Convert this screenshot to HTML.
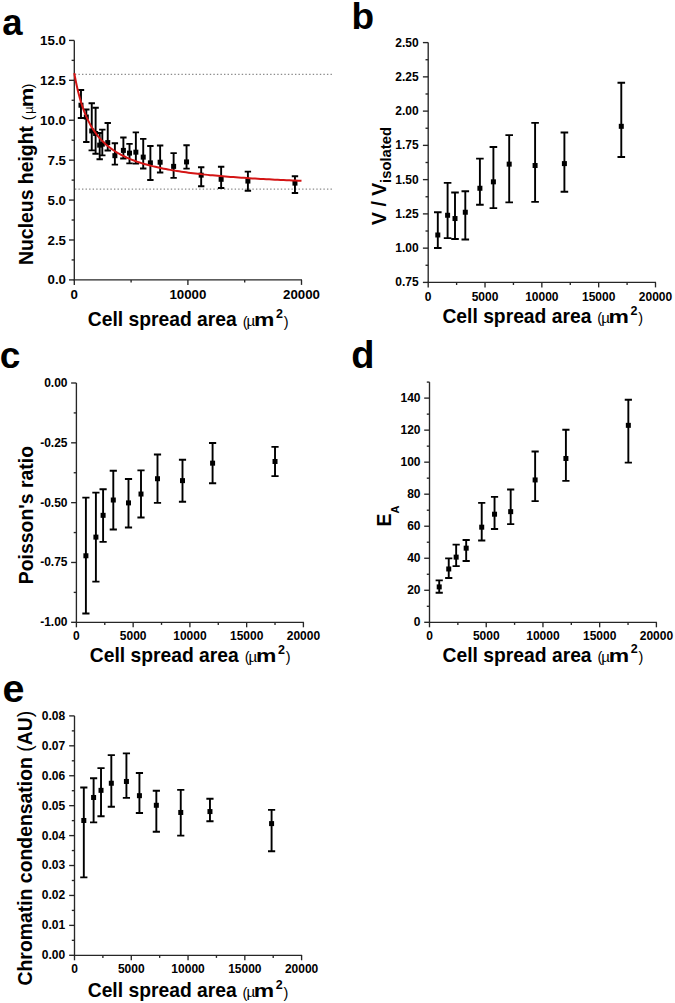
<!DOCTYPE html>
<html><head><meta charset="utf-8"><title>Figure</title>
<style>
html,body{margin:0;padding:0;background:#fff;}
body{width:675px;height:1003px;overflow:hidden;}
svg{display:block;}
text{font-family:"Liberation Sans", sans-serif;fill:#000;}
</style></head>
<body>
<svg width="675" height="1003" viewBox="0 0 675 1003">
<rect width="675" height="1003" fill="#fff"/>
<line x1="74.3" y1="40.4" x2="74.3" y2="280.5" stroke="#262626" stroke-width="1.35"/>
<line x1="73.7" y1="279.9" x2="302" y2="279.9" stroke="#262626" stroke-width="1.35"/>
<line x1="69" y1="279.9" x2="74.3" y2="279.9" stroke="#262626" stroke-width="1.35"/>
<text x="66" y="284.42" font-size="13.3" text-anchor="end" font-weight="bold">0.0</text>
<line x1="71.6" y1="259.94" x2="74.3" y2="259.94" stroke="#262626" stroke-width="1.35"/>
<line x1="69" y1="239.98" x2="74.3" y2="239.98" stroke="#262626" stroke-width="1.35"/>
<text x="66" y="244.51" font-size="13.3" text-anchor="end" font-weight="bold">2.5</text>
<line x1="71.6" y1="220.02" x2="74.3" y2="220.02" stroke="#262626" stroke-width="1.35"/>
<line x1="69" y1="200.07" x2="74.3" y2="200.07" stroke="#262626" stroke-width="1.35"/>
<text x="66" y="204.59" font-size="13.3" text-anchor="end" font-weight="bold">5.0</text>
<line x1="71.6" y1="180.11" x2="74.3" y2="180.11" stroke="#262626" stroke-width="1.35"/>
<line x1="69" y1="160.15" x2="74.3" y2="160.15" stroke="#262626" stroke-width="1.35"/>
<text x="66" y="164.67" font-size="13.3" text-anchor="end" font-weight="bold">7.5</text>
<line x1="71.6" y1="140.19" x2="74.3" y2="140.19" stroke="#262626" stroke-width="1.35"/>
<line x1="69" y1="120.23" x2="74.3" y2="120.23" stroke="#262626" stroke-width="1.35"/>
<text x="66" y="124.76" font-size="13.3" text-anchor="end" font-weight="bold">10.0</text>
<line x1="71.6" y1="100.28" x2="74.3" y2="100.28" stroke="#262626" stroke-width="1.35"/>
<line x1="69" y1="80.32" x2="74.3" y2="80.32" stroke="#262626" stroke-width="1.35"/>
<text x="66" y="84.84" font-size="13.3" text-anchor="end" font-weight="bold">12.5</text>
<line x1="71.6" y1="60.36" x2="74.3" y2="60.36" stroke="#262626" stroke-width="1.35"/>
<line x1="69" y1="40.4" x2="74.3" y2="40.4" stroke="#262626" stroke-width="1.35"/>
<text x="66" y="44.92" font-size="13.3" text-anchor="end" font-weight="bold">15.0</text>
<line x1="74.3" y1="279.9" x2="74.3" y2="284.9" stroke="#262626" stroke-width="1.35"/>
<text x="74.3" y="299.1" font-size="13.3" text-anchor="middle" font-weight="bold">0</text>
<line x1="131.1" y1="279.9" x2="131.1" y2="282.5" stroke="#262626" stroke-width="1.35"/>
<line x1="187.9" y1="279.9" x2="187.9" y2="284.9" stroke="#262626" stroke-width="1.35"/>
<text x="187.9" y="299.1" font-size="13.3" text-anchor="middle" font-weight="bold">10000</text>
<line x1="244.7" y1="279.9" x2="244.7" y2="282.5" stroke="#262626" stroke-width="1.35"/>
<line x1="301.5" y1="279.9" x2="301.5" y2="284.9" stroke="#262626" stroke-width="1.35"/>
<text x="301.5" y="299.1" font-size="13.3" text-anchor="middle" font-weight="bold">20000</text>
<line x1="74.9" y1="74.33" x2="334" y2="74.33" stroke="#8c8c8c" stroke-width="1.3" stroke-dasharray="1.4 2.15"/>
<line x1="74.9" y1="189.05" x2="334" y2="189.05" stroke="#8c8c8c" stroke-width="1.3" stroke-dasharray="1.4 2.15"/>
<path d="M80.98 90.06V118M77.78 90.06H84.18M77.78 118H84.18" stroke="#000" stroke-width="1.9" fill="none"/>
<rect x="78.48" y="102.72" width="5" height="5" fill="#000"/>
<path d="M86.31 109.54V141.95M83.11 109.54H89.51M83.11 141.95H89.51" stroke="#000" stroke-width="1.9" fill="none"/>
<rect x="83.81" y="114.54" width="5" height="5" fill="#000"/>
<path d="M91.75 103.31V150.41M88.55 103.31H94.95M88.55 150.41H94.95" stroke="#000" stroke-width="1.9" fill="none"/>
<rect x="89.25" y="128.43" width="5" height="5" fill="#000"/>
<path d="M95.61 107.78V153.76M92.41 107.78H98.81M92.41 153.76H98.81" stroke="#000" stroke-width="1.9" fill="none"/>
<rect x="93.11" y="130.99" width="5" height="5" fill="#000"/>
<path d="M99.69 133.01V159.19M96.49 133.01H102.89M96.49 159.19H102.89" stroke="#000" stroke-width="1.9" fill="none"/>
<rect x="97.19" y="142.64" width="5" height="5" fill="#000"/>
<path d="M102.3 129.65V155.36M99.1 129.65H105.5M99.1 155.36H105.5" stroke="#000" stroke-width="1.9" fill="none"/>
<rect x="99.8" y="141.68" width="5" height="5" fill="#000"/>
<path d="M107.74 122.95V150.57M104.54 122.95H110.94M104.54 150.57H110.94" stroke="#000" stroke-width="1.9" fill="none"/>
<rect x="105.24" y="140.09" width="5" height="5" fill="#000"/>
<path d="M114.88 143.23V164.62M111.68 143.23H118.08M111.68 164.62H118.08" stroke="#000" stroke-width="1.9" fill="none"/>
<rect x="112.38" y="153.18" width="5" height="5" fill="#000"/>
<path d="M123.39 137.48V158.55M120.19 137.48H126.59M120.19 158.55H126.59" stroke="#000" stroke-width="1.9" fill="none"/>
<rect x="120.89" y="147.91" width="5" height="5" fill="#000"/>
<path d="M129.51 143.86V163.34M126.31 143.86H132.71M126.31 163.34H132.71" stroke="#000" stroke-width="1.9" fill="none"/>
<rect x="127.01" y="150.62" width="5" height="5" fill="#000"/>
<path d="M135.86 132.37V163.66M132.66 132.37H139.06M132.66 163.66H139.06" stroke="#000" stroke-width="1.9" fill="none"/>
<rect x="133.36" y="149.67" width="5" height="5" fill="#000"/>
<path d="M143.23 138.91V168.45M140.03 138.91H146.43M140.03 168.45H146.43" stroke="#000" stroke-width="1.9" fill="none"/>
<rect x="140.73" y="154.62" width="5" height="5" fill="#000"/>
<path d="M150.38 145.94V179.95M147.18 145.94H153.58M147.18 179.95H153.58" stroke="#000" stroke-width="1.9" fill="none"/>
<rect x="147.88" y="160.36" width="5" height="5" fill="#000"/>
<path d="M160.13 145.46V172.44M156.93 145.46H163.33M156.93 172.44H163.33" stroke="#000" stroke-width="1.9" fill="none"/>
<rect x="157.63" y="159.73" width="5" height="5" fill="#000"/>
<path d="M173.62 153.12V177.87M170.43 153.12H176.82M170.43 177.87H176.82" stroke="#000" stroke-width="1.9" fill="none"/>
<rect x="171.12" y="163.88" width="5" height="5" fill="#000"/>
<path d="M186.55 145.3V168.61M183.35 145.3H189.75M183.35 168.61H189.75" stroke="#000" stroke-width="1.9" fill="none"/>
<rect x="184.05" y="159.41" width="5" height="5" fill="#000"/>
<path d="M201.18 167.18V186.18M197.98 167.18H204.38M197.98 186.18H204.38" stroke="#000" stroke-width="1.9" fill="none"/>
<rect x="198.68" y="172.66" width="5" height="5" fill="#000"/>
<path d="M221.14 166.7V187.93M217.94 166.7H224.34M217.94 187.93H224.34" stroke="#000" stroke-width="1.9" fill="none"/>
<rect x="218.64" y="176.81" width="5" height="5" fill="#000"/>
<path d="M247.9 171.65V190.81M244.7 171.65H251.1M244.7 190.81H251.1" stroke="#000" stroke-width="1.9" fill="none"/>
<rect x="245.4" y="178.57" width="5" height="5" fill="#000"/>
<path d="M294.96 176.28V193.04M291.76 176.28H298.16M291.76 193.04H298.16" stroke="#000" stroke-width="1.9" fill="none"/>
<rect x="292.46" y="180.64" width="5" height="5" fill="#000"/>
<polyline points="74.3,73.13 74.41,73.74 74.62,74.97 74.92,76.59 75.28,78.52 75.71,80.68 76.18,83.03 76.71,85.5 77.28,88.07 77.9,90.71 78.56,93.38 79.27,96.06 80.01,98.74 80.79,101.39 81.6,104.02 82.46,106.59 83.34,109.12 84.26,111.58 85.22,113.98 86.2,116.31 87.22,118.58 88.27,120.77 89.35,122.89 90.46,124.94 91.6,126.92 92.77,128.82 93.96,130.66 95.19,132.43 96.44,134.14 97.72,135.78 99.02,137.36 100.36,138.88 101.71,140.35 103.1,141.76 104.51,143.11 105.94,144.42 107.4,145.67 108.88,146.88 110.39,148.04 111.92,149.16 113.48,150.24 115.05,151.28 116.66,152.28 118.28,153.24 119.93,154.17 121.6,155.07 123.29,155.93 125.01,156.76 126.75,157.57 128.5,158.34 130.28,159.09 132.09,159.81 133.91,160.51 135.76,161.19 137.62,161.84 139.51,162.47 141.41,163.08 143.34,163.67 145.29,164.24 147.26,164.8 149.25,165.33 151.26,165.85 153.29,166.35 155.33,166.84 157.4,167.31 159.49,167.77 161.59,168.21 163.72,168.65 165.87,169.06 168.03,169.47 170.21,169.86 172.41,170.25 174.63,170.62 176.87,170.98 179.13,171.33 181.41,171.67 183.7,172.01 186.01,172.33 188.34,172.64 190.69,172.95 193.06,173.25 195.44,173.54 197.84,173.82 200.26,174.1 202.7,174.37 205.15,174.63 207.63,174.88 210.12,175.13 212.62,175.37 215.15,175.61 217.69,175.84 220.24,176.06 222.82,176.28 225.41,176.5 228.02,176.71 230.64,176.91 233.28,177.11 235.94,177.31 238.62,177.5 241.31,177.69 244.01,177.87 246.74,178.05 249.48,178.22 252.23,178.39 255.01,178.56 257.79,178.72 260.6,178.88 263.42,179.04 266.25,179.19 269.11,179.34 271.97,179.49 274.86,179.63 277.75,179.77 280.67,179.91 283.6,180.04 286.54,180.17 289.5,180.3 292.48,180.43 295.47,180.56 298.48,180.68 301.5,180.8" fill="none" stroke="#d41515" stroke-width="2"/>
<text x="2.2" y="35.3" font-size="36.5" font-weight="bold">a</text>
<g transform="translate(88.6 326.2)"><text x="-0.79" y="0" font-size="19.3" font-weight="bold">Cell spread area</text>
<text x="154.1" y="0.4" font-size="14.5" font-weight="normal">(</text>
<text x="157.97" y="0" font-size="15" font-weight="normal">µ</text>
<text transform="translate(165.29 0) scale(1.31 1)" font-size="17.5" font-weight="bold">m</text>
<text x="187.37" y="-8.2" font-size="12.5" font-weight="bold">2</text>
<text x="195.12" y="0.4" font-size="14.5" font-weight="normal">)</text></g>
<g transform="translate(33.1 263.7) rotate(-90)"><text x="-1.3" y="0" font-size="19.4" font-weight="bold">Nucleus height</text>
<text x="143.5" y="0" font-size="14.5" font-weight="normal">(</text>
<text x="149.68" y="0" font-size="13.5" font-weight="normal">µ</text>
<text transform="translate(156.33 0) scale(1.17 1)" font-size="19" font-weight="bold">m</text>
<text x="175.12" y="0" font-size="14.5" font-weight="normal">)</text></g>
<line x1="428.2" y1="42.6" x2="428.2" y2="283" stroke="#262626" stroke-width="1.35"/>
<line x1="427.6" y1="282.4" x2="656" y2="282.4" stroke="#262626" stroke-width="1.35"/>
<line x1="422.9" y1="282.4" x2="428.2" y2="282.4" stroke="#262626" stroke-width="1.35"/>
<text x="418.7" y="286.36" font-size="12" text-anchor="end" font-weight="bold">0.75</text>
<line x1="425.5" y1="265.27" x2="428.2" y2="265.27" stroke="#262626" stroke-width="1.35"/>
<line x1="422.9" y1="248.14" x2="428.2" y2="248.14" stroke="#262626" stroke-width="1.35"/>
<text x="418.7" y="252.1" font-size="12" text-anchor="end" font-weight="bold">1.00</text>
<line x1="425.5" y1="231.01" x2="428.2" y2="231.01" stroke="#262626" stroke-width="1.35"/>
<line x1="422.9" y1="213.89" x2="428.2" y2="213.89" stroke="#262626" stroke-width="1.35"/>
<text x="418.7" y="217.85" font-size="12" text-anchor="end" font-weight="bold">1.25</text>
<line x1="425.5" y1="196.76" x2="428.2" y2="196.76" stroke="#262626" stroke-width="1.35"/>
<line x1="422.9" y1="179.63" x2="428.2" y2="179.63" stroke="#262626" stroke-width="1.35"/>
<text x="418.7" y="183.59" font-size="12" text-anchor="end" font-weight="bold">1.50</text>
<line x1="425.5" y1="162.5" x2="428.2" y2="162.5" stroke="#262626" stroke-width="1.35"/>
<line x1="422.9" y1="145.37" x2="428.2" y2="145.37" stroke="#262626" stroke-width="1.35"/>
<text x="418.7" y="149.33" font-size="12" text-anchor="end" font-weight="bold">1.75</text>
<line x1="425.5" y1="128.24" x2="428.2" y2="128.24" stroke="#262626" stroke-width="1.35"/>
<line x1="422.9" y1="111.11" x2="428.2" y2="111.11" stroke="#262626" stroke-width="1.35"/>
<text x="418.7" y="115.07" font-size="12" text-anchor="end" font-weight="bold">2.00</text>
<line x1="425.5" y1="93.99" x2="428.2" y2="93.99" stroke="#262626" stroke-width="1.35"/>
<line x1="422.9" y1="76.86" x2="428.2" y2="76.86" stroke="#262626" stroke-width="1.35"/>
<text x="418.7" y="80.82" font-size="12" text-anchor="end" font-weight="bold">2.25</text>
<line x1="425.5" y1="59.73" x2="428.2" y2="59.73" stroke="#262626" stroke-width="1.35"/>
<line x1="422.9" y1="42.6" x2="428.2" y2="42.6" stroke="#262626" stroke-width="1.35"/>
<text x="418.7" y="46.56" font-size="12" text-anchor="end" font-weight="bold">2.50</text>
<line x1="428.2" y1="282.4" x2="428.2" y2="287.4" stroke="#262626" stroke-width="1.35"/>
<text x="428.2" y="300.6" font-size="12" text-anchor="middle" font-weight="bold">0</text>
<line x1="456.61" y1="282.4" x2="456.61" y2="285" stroke="#262626" stroke-width="1.35"/>
<line x1="485.02" y1="282.4" x2="485.02" y2="287.4" stroke="#262626" stroke-width="1.35"/>
<text x="485.02" y="300.6" font-size="12" text-anchor="middle" font-weight="bold">5000</text>
<line x1="513.44" y1="282.4" x2="513.44" y2="285" stroke="#262626" stroke-width="1.35"/>
<line x1="541.85" y1="282.4" x2="541.85" y2="287.4" stroke="#262626" stroke-width="1.35"/>
<text x="541.85" y="300.6" font-size="12" text-anchor="middle" font-weight="bold">10000</text>
<line x1="570.26" y1="282.4" x2="570.26" y2="285" stroke="#262626" stroke-width="1.35"/>
<line x1="598.67" y1="282.4" x2="598.67" y2="287.4" stroke="#262626" stroke-width="1.35"/>
<text x="598.67" y="300.6" font-size="12" text-anchor="middle" font-weight="bold">15000</text>
<line x1="627.09" y1="282.4" x2="627.09" y2="285" stroke="#262626" stroke-width="1.35"/>
<line x1="655.5" y1="282.4" x2="655.5" y2="287.4" stroke="#262626" stroke-width="1.35"/>
<text x="655.5" y="300.6" font-size="12" text-anchor="middle" font-weight="bold">20000</text>
<path d="M437.8 212.24V248.01M434 212.24H441.6M434 248.01H441.6" stroke="#000" stroke-width="1.9" fill="none"/>
<rect x="435.3" y="232.49" width="5" height="5" fill="#000"/>
<path d="M447.6 182.92V238.14M443.8 182.92H451.4M443.8 238.14H451.4" stroke="#000" stroke-width="1.9" fill="none"/>
<rect x="445.1" y="212.76" width="5" height="5" fill="#000"/>
<path d="M455 192.51V238.96M451.2 192.51H458.8M451.2 238.96H458.8" stroke="#000" stroke-width="1.9" fill="none"/>
<rect x="452.5" y="216.04" width="5" height="5" fill="#000"/>
<path d="M465.3 191.28V239.51M461.5 191.28H469.1M461.5 239.51H469.1" stroke="#000" stroke-width="1.9" fill="none"/>
<rect x="462.8" y="209.74" width="5" height="5" fill="#000"/>
<path d="M479.9 158.66V204.7M476.1 158.66H483.7M476.1 204.7H483.7" stroke="#000" stroke-width="1.9" fill="none"/>
<rect x="477.4" y="185.76" width="5" height="5" fill="#000"/>
<path d="M493.4 147.02V208.13M489.6 147.02H497.2M489.6 208.13H497.2" stroke="#000" stroke-width="1.9" fill="none"/>
<rect x="490.9" y="179.32" width="5" height="5" fill="#000"/>
<path d="M509.2 135.09V202.38M505.4 135.09H513M505.4 202.38H513" stroke="#000" stroke-width="1.9" fill="none"/>
<rect x="506.7" y="161.64" width="5" height="5" fill="#000"/>
<path d="M535.09 122.9V201.83M531.29 122.9H538.89M531.29 201.83H538.89" stroke="#000" stroke-width="1.9" fill="none"/>
<rect x="532.59" y="163.01" width="5" height="5" fill="#000"/>
<path d="M564.4 132.49V191.69M560.6 132.49H568.2M560.6 191.69H568.2" stroke="#000" stroke-width="1.9" fill="none"/>
<rect x="561.9" y="161.1" width="5" height="5" fill="#000"/>
<path d="M621.29 82.75V157.02M617.49 82.75H625.09M617.49 157.02H625.09" stroke="#000" stroke-width="1.9" fill="none"/>
<rect x="618.79" y="123.82" width="5" height="5" fill="#000"/>
<text x="351.5" y="29.3" font-size="37" font-weight="bold">b</text>
<g transform="translate(443.2 322.8)"><text x="-0.79" y="0" font-size="19.3" font-weight="bold">Cell spread area</text>
<text x="154.1" y="0.4" font-size="14.5" font-weight="normal">(</text>
<text x="157.97" y="0" font-size="15" font-weight="normal">µ</text>
<text transform="translate(165.29 0) scale(1.31 1)" font-size="17.5" font-weight="bold">m</text>
<text x="187.37" y="-8.2" font-size="12.5" font-weight="bold">2</text>
<text x="195.12" y="0.4" font-size="14.5" font-weight="normal">)</text></g>
<g transform="translate(385.9 224.8) rotate(-90)"><text x="-0.13" y="0" font-size="19.4" font-weight="bold">V / V<tspan font-size="14.8" dy="5.4">isolated</tspan></text></g>
<line x1="76.4" y1="383" x2="76.4" y2="622.9" stroke="#262626" stroke-width="1.35"/>
<line x1="75.8" y1="622.3" x2="303.9" y2="622.3" stroke="#262626" stroke-width="1.35"/>
<line x1="71.1" y1="622.3" x2="76.4" y2="622.3" stroke="#262626" stroke-width="1.35"/>
<text x="67.5" y="626.26" font-size="12" text-anchor="end" font-weight="bold">-1.00</text>
<line x1="73.7" y1="592.39" x2="76.4" y2="592.39" stroke="#262626" stroke-width="1.35"/>
<line x1="71.1" y1="562.47" x2="76.4" y2="562.47" stroke="#262626" stroke-width="1.35"/>
<text x="67.5" y="566.43" font-size="12" text-anchor="end" font-weight="bold">-0.75</text>
<line x1="73.7" y1="532.56" x2="76.4" y2="532.56" stroke="#262626" stroke-width="1.35"/>
<line x1="71.1" y1="502.65" x2="76.4" y2="502.65" stroke="#262626" stroke-width="1.35"/>
<text x="67.5" y="506.61" font-size="12" text-anchor="end" font-weight="bold">-0.50</text>
<line x1="73.7" y1="472.74" x2="76.4" y2="472.74" stroke="#262626" stroke-width="1.35"/>
<line x1="71.1" y1="442.82" x2="76.4" y2="442.82" stroke="#262626" stroke-width="1.35"/>
<text x="67.5" y="446.78" font-size="12" text-anchor="end" font-weight="bold">-0.25</text>
<line x1="73.7" y1="412.91" x2="76.4" y2="412.91" stroke="#262626" stroke-width="1.35"/>
<line x1="71.1" y1="383" x2="76.4" y2="383" stroke="#262626" stroke-width="1.35"/>
<text x="67.5" y="386.96" font-size="12" text-anchor="end" font-weight="bold">0.00</text>
<line x1="76.4" y1="622.3" x2="76.4" y2="627.3" stroke="#262626" stroke-width="1.35"/>
<text x="76.4" y="640.2" font-size="12" text-anchor="middle" font-weight="bold">0</text>
<line x1="104.78" y1="622.3" x2="104.78" y2="624.9" stroke="#262626" stroke-width="1.35"/>
<line x1="133.15" y1="622.3" x2="133.15" y2="627.3" stroke="#262626" stroke-width="1.35"/>
<text x="133.15" y="640.2" font-size="12" text-anchor="middle" font-weight="bold">5000</text>
<line x1="161.52" y1="622.3" x2="161.52" y2="624.9" stroke="#262626" stroke-width="1.35"/>
<line x1="189.9" y1="622.3" x2="189.9" y2="627.3" stroke="#262626" stroke-width="1.35"/>
<text x="189.9" y="640.2" font-size="12" text-anchor="middle" font-weight="bold">10000</text>
<line x1="218.27" y1="622.3" x2="218.27" y2="624.9" stroke="#262626" stroke-width="1.35"/>
<line x1="246.65" y1="622.3" x2="246.65" y2="627.3" stroke="#262626" stroke-width="1.35"/>
<text x="246.65" y="640.2" font-size="12" text-anchor="middle" font-weight="bold">15000</text>
<line x1="275.02" y1="622.3" x2="275.02" y2="624.9" stroke="#262626" stroke-width="1.35"/>
<line x1="303.4" y1="622.3" x2="303.4" y2="627.3" stroke="#262626" stroke-width="1.35"/>
<text x="303.4" y="640.2" font-size="12" text-anchor="middle" font-weight="bold">20000</text>
<path d="M85.9 497.62V613.45M82.3 497.62H89.5M82.3 613.45H89.5" stroke="#000" stroke-width="1.9" fill="none"/>
<rect x="83.4" y="553.27" width="5" height="5" fill="#000"/>
<path d="M95.9 492.6V581.62M92.3 492.6H99.5M92.3 581.62H99.5" stroke="#000" stroke-width="1.9" fill="none"/>
<rect x="93.4" y="534.61" width="5" height="5" fill="#000"/>
<path d="M103.1 489.25V541.9M99.5 489.25H106.7M99.5 541.9H106.7" stroke="#000" stroke-width="1.9" fill="none"/>
<rect x="100.6" y="512.83" width="5" height="5" fill="#000"/>
<path d="M113.3 470.82V529.45M109.7 470.82H116.89M109.7 529.45H116.89" stroke="#000" stroke-width="1.9" fill="none"/>
<rect x="110.8" y="497.52" width="5" height="5" fill="#000"/>
<path d="M128.5 478.96V527.54M124.91 478.96H132.1M124.91 527.54H132.1" stroke="#000" stroke-width="1.9" fill="none"/>
<rect x="126" y="500.39" width="5" height="5" fill="#000"/>
<path d="M141 470.34V517.49M137.4 470.34H144.6M137.4 517.49H144.6" stroke="#000" stroke-width="1.9" fill="none"/>
<rect x="138.5" y="491.54" width="5" height="5" fill="#000"/>
<path d="M157.5 454.55V502.89M153.9 454.55H161.1M153.9 502.89H161.1" stroke="#000" stroke-width="1.9" fill="none"/>
<rect x="155" y="476.22" width="5" height="5" fill="#000"/>
<path d="M182.5 459.82V501.69M178.91 459.82H186.1M178.91 501.69H186.1" stroke="#000" stroke-width="1.9" fill="none"/>
<rect x="180" y="478.13" width="5" height="5" fill="#000"/>
<path d="M212.59 443.06V483.27M208.99 443.06H216.19M208.99 483.27H216.19" stroke="#000" stroke-width="1.9" fill="none"/>
<rect x="210.09" y="460.67" width="5" height="5" fill="#000"/>
<path d="M275.02 446.89V476.09M271.42 446.89H278.62M271.42 476.09H278.62" stroke="#000" stroke-width="1.9" fill="none"/>
<rect x="272.52" y="458.99" width="5" height="5" fill="#000"/>
<text x="-0.2" y="368.0" font-size="37" font-weight="bold">c</text>
<g transform="translate(90.6 661.9)"><text x="-0.79" y="0" font-size="19.3" font-weight="bold">Cell spread area</text>
<text x="154.1" y="0.4" font-size="14.5" font-weight="normal">(</text>
<text x="157.97" y="0" font-size="15" font-weight="normal">µ</text>
<text transform="translate(165.29 0) scale(1.31 1)" font-size="17.5" font-weight="bold">m</text>
<text x="187.37" y="-8.2" font-size="12.5" font-weight="bold">2</text>
<text x="195.12" y="0.4" font-size="14.5" font-weight="normal">)</text></g>
<g transform="translate(33.1 582.9) rotate(-90)"><text x="-1.3" y="0" font-size="19.4" font-weight="bold">Poisson's ratio</text></g>
<line x1="429.5" y1="382.1" x2="429.5" y2="622.9" stroke="#262626" stroke-width="1.35"/>
<line x1="428.9" y1="622.3" x2="656.9" y2="622.3" stroke="#262626" stroke-width="1.35"/>
<line x1="424.2" y1="622.3" x2="429.5" y2="622.3" stroke="#262626" stroke-width="1.35"/>
<text x="420.5" y="626.26" font-size="12" text-anchor="end" font-weight="bold">0</text>
<line x1="426.8" y1="606.29" x2="429.5" y2="606.29" stroke="#262626" stroke-width="1.35"/>
<line x1="424.2" y1="590.27" x2="429.5" y2="590.27" stroke="#262626" stroke-width="1.35"/>
<text x="420.5" y="594.23" font-size="12" text-anchor="end" font-weight="bold">20</text>
<line x1="426.8" y1="574.26" x2="429.5" y2="574.26" stroke="#262626" stroke-width="1.35"/>
<line x1="424.2" y1="558.25" x2="429.5" y2="558.25" stroke="#262626" stroke-width="1.35"/>
<text x="420.5" y="562.21" font-size="12" text-anchor="end" font-weight="bold">40</text>
<line x1="426.8" y1="542.23" x2="429.5" y2="542.23" stroke="#262626" stroke-width="1.35"/>
<line x1="424.2" y1="526.22" x2="429.5" y2="526.22" stroke="#262626" stroke-width="1.35"/>
<text x="420.5" y="530.18" font-size="12" text-anchor="end" font-weight="bold">60</text>
<line x1="426.8" y1="510.21" x2="429.5" y2="510.21" stroke="#262626" stroke-width="1.35"/>
<line x1="424.2" y1="494.19" x2="429.5" y2="494.19" stroke="#262626" stroke-width="1.35"/>
<text x="420.5" y="498.15" font-size="12" text-anchor="end" font-weight="bold">80</text>
<line x1="426.8" y1="478.18" x2="429.5" y2="478.18" stroke="#262626" stroke-width="1.35"/>
<line x1="424.2" y1="462.17" x2="429.5" y2="462.17" stroke="#262626" stroke-width="1.35"/>
<text x="420.5" y="466.13" font-size="12" text-anchor="end" font-weight="bold">100</text>
<line x1="426.8" y1="446.15" x2="429.5" y2="446.15" stroke="#262626" stroke-width="1.35"/>
<line x1="424.2" y1="430.14" x2="429.5" y2="430.14" stroke="#262626" stroke-width="1.35"/>
<text x="420.5" y="434.1" font-size="12" text-anchor="end" font-weight="bold">120</text>
<line x1="426.8" y1="414.13" x2="429.5" y2="414.13" stroke="#262626" stroke-width="1.35"/>
<line x1="424.2" y1="398.11" x2="429.5" y2="398.11" stroke="#262626" stroke-width="1.35"/>
<text x="420.5" y="402.07" font-size="12" text-anchor="end" font-weight="bold">140</text>
<line x1="426.8" y1="382.1" x2="429.5" y2="382.1" stroke="#262626" stroke-width="1.35"/>
<line x1="429.5" y1="622.3" x2="429.5" y2="627.3" stroke="#262626" stroke-width="1.35"/>
<text x="429.5" y="640.4" font-size="12" text-anchor="middle" font-weight="bold">0</text>
<line x1="457.86" y1="622.3" x2="457.86" y2="624.9" stroke="#262626" stroke-width="1.35"/>
<line x1="486.23" y1="622.3" x2="486.23" y2="627.3" stroke="#262626" stroke-width="1.35"/>
<text x="486.23" y="640.4" font-size="12" text-anchor="middle" font-weight="bold">5000</text>
<line x1="514.59" y1="622.3" x2="514.59" y2="624.9" stroke="#262626" stroke-width="1.35"/>
<line x1="542.95" y1="622.3" x2="542.95" y2="627.3" stroke="#262626" stroke-width="1.35"/>
<text x="542.95" y="640.4" font-size="12" text-anchor="middle" font-weight="bold">10000</text>
<line x1="571.31" y1="622.3" x2="571.31" y2="624.9" stroke="#262626" stroke-width="1.35"/>
<line x1="599.67" y1="622.3" x2="599.67" y2="627.3" stroke="#262626" stroke-width="1.35"/>
<text x="599.67" y="640.4" font-size="12" text-anchor="middle" font-weight="bold">15000</text>
<line x1="628.04" y1="622.3" x2="628.04" y2="624.9" stroke="#262626" stroke-width="1.35"/>
<line x1="656.4" y1="622.3" x2="656.4" y2="627.3" stroke="#262626" stroke-width="1.35"/>
<text x="656.4" y="640.4" font-size="12" text-anchor="middle" font-weight="bold">20000</text>
<path d="M439.22 580.35V592.68M435.62 580.35H442.82M435.62 592.68H442.82" stroke="#000" stroke-width="1.9" fill="none"/>
<rect x="436.72" y="584.41" width="5" height="5" fill="#000"/>
<path d="M448.74 558.41V577.94M445.14 558.41H452.34M445.14 577.94H452.34" stroke="#000" stroke-width="1.9" fill="none"/>
<rect x="446.24" y="566.48" width="5" height="5" fill="#000"/>
<path d="M456.16 544.64V566.09M452.56 544.64H459.76M452.56 566.09H459.76" stroke="#000" stroke-width="1.9" fill="none"/>
<rect x="453.66" y="554.63" width="5" height="5" fill="#000"/>
<path d="M466.18 539.99V560.97M462.58 539.99H469.78M462.58 560.97H469.78" stroke="#000" stroke-width="1.9" fill="none"/>
<rect x="463.68" y="545.66" width="5" height="5" fill="#000"/>
<path d="M481.72 502.84V540.47M478.12 502.84H485.32M478.12 540.47H485.32" stroke="#000" stroke-width="1.9" fill="none"/>
<rect x="479.22" y="524.68" width="5" height="5" fill="#000"/>
<path d="M494.54 496.92V528.94M490.94 496.92H498.14M490.94 528.94H498.14" stroke="#000" stroke-width="1.9" fill="none"/>
<rect x="492.04" y="511.71" width="5" height="5" fill="#000"/>
<path d="M510.68 489.55V524.14M507.08 489.55H514.28M507.08 524.14H514.28" stroke="#000" stroke-width="1.9" fill="none"/>
<rect x="508.18" y="509.15" width="5" height="5" fill="#000"/>
<path d="M535.13 451.44V501.08M531.53 451.44H538.73M531.53 501.08H538.73" stroke="#000" stroke-width="1.9" fill="none"/>
<rect x="532.63" y="477.44" width="5" height="5" fill="#000"/>
<path d="M565.9 429.82V480.9M562.3 429.82H569.5M562.3 480.9H569.5" stroke="#000" stroke-width="1.9" fill="none"/>
<rect x="563.4" y="455.98" width="5" height="5" fill="#000"/>
<path d="M628.34 399.71V462.65M624.74 399.71H631.94M624.74 462.65H631.94" stroke="#000" stroke-width="1.9" fill="none"/>
<rect x="625.84" y="422.84" width="5" height="5" fill="#000"/>
<text x="351.3" y="368.3" font-size="38" font-weight="bold">d</text>
<g transform="translate(443.4 661.5)"><text x="-0.79" y="0" font-size="19.3" font-weight="bold">Cell spread area</text>
<text x="154.1" y="0.4" font-size="14.5" font-weight="normal">(</text>
<text x="157.97" y="0" font-size="15" font-weight="normal">µ</text>
<text transform="translate(165.29 0) scale(1.31 1)" font-size="17.5" font-weight="bold">m</text>
<text x="187.37" y="-8.2" font-size="12.5" font-weight="bold">2</text>
<text x="195.12" y="0.4" font-size="14.5" font-weight="normal">)</text></g>
<g transform="translate(391.3 525.2) rotate(-90)"><text x="-1.3" y="0" font-size="19.4" font-weight="bold">E<tspan font-size="11" dy="7.4">A</tspan></text></g>
<line x1="74.5" y1="715.9" x2="74.5" y2="955.9" stroke="#262626" stroke-width="1.35"/>
<line x1="73.9" y1="955.3" x2="302.1" y2="955.3" stroke="#262626" stroke-width="1.35"/>
<line x1="69.2" y1="955.3" x2="74.5" y2="955.3" stroke="#262626" stroke-width="1.35"/>
<text x="65.2" y="959.26" font-size="12" text-anchor="end" font-weight="bold">0.00</text>
<line x1="71.8" y1="940.34" x2="74.5" y2="940.34" stroke="#262626" stroke-width="1.35"/>
<line x1="69.2" y1="925.38" x2="74.5" y2="925.38" stroke="#262626" stroke-width="1.35"/>
<text x="65.2" y="929.34" font-size="12" text-anchor="end" font-weight="bold">0.01</text>
<line x1="71.8" y1="910.41" x2="74.5" y2="910.41" stroke="#262626" stroke-width="1.35"/>
<line x1="69.2" y1="895.45" x2="74.5" y2="895.45" stroke="#262626" stroke-width="1.35"/>
<text x="65.2" y="899.41" font-size="12" text-anchor="end" font-weight="bold">0.02</text>
<line x1="71.8" y1="880.49" x2="74.5" y2="880.49" stroke="#262626" stroke-width="1.35"/>
<line x1="69.2" y1="865.52" x2="74.5" y2="865.52" stroke="#262626" stroke-width="1.35"/>
<text x="65.2" y="869.49" font-size="12" text-anchor="end" font-weight="bold">0.03</text>
<line x1="71.8" y1="850.56" x2="74.5" y2="850.56" stroke="#262626" stroke-width="1.35"/>
<line x1="69.2" y1="835.6" x2="74.5" y2="835.6" stroke="#262626" stroke-width="1.35"/>
<text x="65.2" y="839.56" font-size="12" text-anchor="end" font-weight="bold">0.04</text>
<line x1="71.8" y1="820.64" x2="74.5" y2="820.64" stroke="#262626" stroke-width="1.35"/>
<line x1="69.2" y1="805.67" x2="74.5" y2="805.67" stroke="#262626" stroke-width="1.35"/>
<text x="65.2" y="809.63" font-size="12" text-anchor="end" font-weight="bold">0.05</text>
<line x1="71.8" y1="790.71" x2="74.5" y2="790.71" stroke="#262626" stroke-width="1.35"/>
<line x1="69.2" y1="775.75" x2="74.5" y2="775.75" stroke="#262626" stroke-width="1.35"/>
<text x="65.2" y="779.71" font-size="12" text-anchor="end" font-weight="bold">0.06</text>
<line x1="71.8" y1="760.79" x2="74.5" y2="760.79" stroke="#262626" stroke-width="1.35"/>
<line x1="69.2" y1="745.82" x2="74.5" y2="745.82" stroke="#262626" stroke-width="1.35"/>
<text x="65.2" y="749.78" font-size="12" text-anchor="end" font-weight="bold">0.07</text>
<line x1="71.8" y1="730.86" x2="74.5" y2="730.86" stroke="#262626" stroke-width="1.35"/>
<line x1="69.2" y1="715.9" x2="74.5" y2="715.9" stroke="#262626" stroke-width="1.35"/>
<text x="65.2" y="719.86" font-size="12" text-anchor="end" font-weight="bold">0.08</text>
<line x1="74.5" y1="955.3" x2="74.5" y2="960.3" stroke="#262626" stroke-width="1.35"/>
<text x="74.5" y="973.1" font-size="12" text-anchor="middle" font-weight="bold">0</text>
<line x1="102.89" y1="955.3" x2="102.89" y2="957.9" stroke="#262626" stroke-width="1.35"/>
<line x1="131.28" y1="955.3" x2="131.28" y2="960.3" stroke="#262626" stroke-width="1.35"/>
<text x="131.28" y="973.1" font-size="12" text-anchor="middle" font-weight="bold">5000</text>
<line x1="159.66" y1="955.3" x2="159.66" y2="957.9" stroke="#262626" stroke-width="1.35"/>
<line x1="188.05" y1="955.3" x2="188.05" y2="960.3" stroke="#262626" stroke-width="1.35"/>
<text x="188.05" y="973.1" font-size="12" text-anchor="middle" font-weight="bold">10000</text>
<line x1="216.44" y1="955.3" x2="216.44" y2="957.9" stroke="#262626" stroke-width="1.35"/>
<line x1="244.83" y1="955.3" x2="244.83" y2="960.3" stroke="#262626" stroke-width="1.35"/>
<text x="244.83" y="973.1" font-size="12" text-anchor="middle" font-weight="bold">15000</text>
<line x1="273.21" y1="955.3" x2="273.21" y2="957.9" stroke="#262626" stroke-width="1.35"/>
<line x1="301.6" y1="955.3" x2="301.6" y2="960.3" stroke="#262626" stroke-width="1.35"/>
<text x="301.6" y="973.1" font-size="12" text-anchor="middle" font-weight="bold">20000</text>
<path d="M83.81 787.57V877.35M80.21 787.57H87.41M80.21 877.35H87.41" stroke="#000" stroke-width="1.9" fill="none"/>
<rect x="81.31" y="817.99" width="5" height="5" fill="#000"/>
<path d="M93.61 778.26V822.4M90.01 778.26H97.21M90.01 822.4H97.21" stroke="#000" stroke-width="1.9" fill="none"/>
<rect x="91.11" y="794.98" width="5" height="5" fill="#000"/>
<path d="M101.02 768.15V816.18M97.42 768.15H104.62M97.42 816.18H104.62" stroke="#000" stroke-width="1.9" fill="none"/>
<rect x="98.52" y="787.85" width="5" height="5" fill="#000"/>
<path d="M111.32 755.13V806.78M107.72 755.13H114.92M107.72 806.78H114.92" stroke="#000" stroke-width="1.9" fill="none"/>
<rect x="108.82" y="780.76" width="5" height="5" fill="#000"/>
<path d="M126.42 753.34V797.86M122.82 753.34H130.02M122.82 797.86H130.02" stroke="#000" stroke-width="1.9" fill="none"/>
<rect x="123.92" y="778.97" width="5" height="5" fill="#000"/>
<path d="M139.43 772.94V812.98M135.83 772.94H143.03M135.83 812.98H143.03" stroke="#000" stroke-width="1.9" fill="none"/>
<rect x="136.93" y="793.18" width="5" height="5" fill="#000"/>
<path d="M156.34 790.77V831.71M152.74 790.77H159.94M152.74 831.71H159.94" stroke="#000" stroke-width="1.9" fill="none"/>
<rect x="153.84" y="802.79" width="5" height="5" fill="#000"/>
<path d="M180.75 789.87V835.6M177.15 789.87H184.35M177.15 835.6H184.35" stroke="#000" stroke-width="1.9" fill="none"/>
<rect x="178.25" y="809.97" width="5" height="5" fill="#000"/>
<path d="M209.96 798.76V821.3M206.36 798.76H213.56M206.36 821.3H213.56" stroke="#000" stroke-width="1.9" fill="none"/>
<rect x="207.46" y="809.07" width="5" height="5" fill="#000"/>
<path d="M271.59 809.86V851.31M267.99 809.86H275.19M267.99 851.31H275.19" stroke="#000" stroke-width="1.9" fill="none"/>
<rect x="269.09" y="821.1" width="5" height="5" fill="#000"/>
<text x="2.6" y="701.8" font-size="39.5" font-weight="bold">e</text>
<g transform="translate(88.5 997.2)"><text x="-0.79" y="0" font-size="19.3" font-weight="bold">Cell spread area</text>
<text x="154.1" y="0.4" font-size="14.5" font-weight="normal">(</text>
<text x="157.97" y="0" font-size="15" font-weight="normal">µ</text>
<text transform="translate(165.29 0) scale(1.31 1)" font-size="17.5" font-weight="bold">m</text>
<text x="187.37" y="-8.2" font-size="12.5" font-weight="bold">2</text>
<text x="195.12" y="0.4" font-size="14.5" font-weight="normal">)</text></g>
<g transform="translate(31.8 984.7) rotate(-90)"><text x="-0.8" y="0" font-size="19.4" font-weight="bold">Chromatin condensation <tspan font-weight="normal">(</tspan>AU<tspan font-weight="normal">)</tspan></text></g>
</svg>
</body></html>
